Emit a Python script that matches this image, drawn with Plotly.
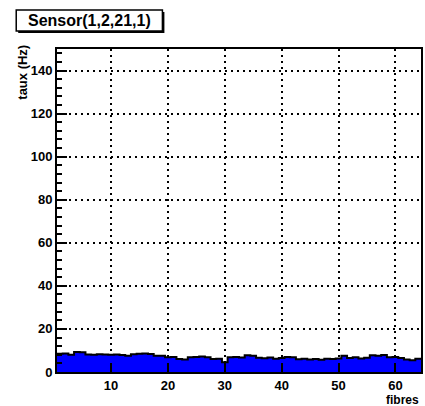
import plotly.graph_objects as go

title_text = "Sensor(1,2,21,1)"
x_title = "fibres"
y_title = "taux (Hz)"

fibres = list(range(1, 65))
taux = [8.5, 8.6, 8.0, 9.3, 9.2, 8.1, 8.0, 8.2, 8.1, 8.0,
        8.1, 7.9, 7.6, 8.3, 8.5, 8.6, 8.4, 7.6, 7.5, 6.8,
        7.0, 6.0, 5.8, 6.8, 7.0, 7.2, 6.9, 6.0, 6.1, 4.5,
        6.9, 7.0, 6.7, 7.8, 7.6, 6.6, 6.4, 6.7, 6.2, 6.5,
        7.0, 6.8, 5.9, 6.1, 5.8, 6.0, 5.7, 6.1, 6.0, 6.3,
        7.5, 6.5, 6.8, 6.3, 6.6, 7.8, 7.6, 7.9, 6.9, 7.0,
        6.5, 5.8, 5.5, 6.2]
x_ticks = [10, 20, 30, 40, 50, 60]
y_ticks = [0, 20, 40, 60, 80, 100, 120, 140]

W, H = 425, 406
L, R, T, B = 57, 2, 49, 34
pw, ph = W - L - R, H - T - B

def px(xp):
    return (xp - L) / pw

def py(yp):
    return (H - B - yp) / ph

edges = [f - 0.5 for f in fibres] + [fibres[-1] + 0.5]
yvals = taux + [taux[-1]]

fig = go.Figure()
fig.add_trace(go.Scatter(
    x=edges, y=yvals, mode="lines", line_shape="hv",
    fill="tozeroy", fillcolor="#0000ff",
    line=dict(color="black", width=2), hoverinfo="skip", showlegend=False))

font_b = dict(family="Liberation Sans, Arial, sans-serif", size=13, color="black", weight="bold")

fig.update_layout(
    width=W, height=H,
    margin=dict(l=L, r=R, t=T, b=B, pad=0),
    paper_bgcolor="white", plot_bgcolor="white",
    showlegend=False,
    xaxis=dict(
        range=[0.5, 64.5], tickvals=x_ticks, ticktext=[str(v) for v in x_ticks],
        showline=True, linecolor="black", linewidth=2, mirror=True,
        showgrid=True, gridcolor="black", gridwidth=2, griddash="2px,4px",
        ticks="inside", ticklen=9, tickwidth=2, tickcolor="black",
        zeroline=False, tickfont=font_b, fixedrange=True,
    ),
    yaxis=dict(
        range=[0, 150], tickvals=y_ticks, ticktext=[str(v) for v in y_ticks],
        showline=True, linecolor="black", linewidth=2, mirror=True,
        showgrid=True, gridcolor="black", gridwidth=2, griddash="2px,4px",
        ticks="inside", ticklen=10, tickwidth=2, tickcolor="black",
        minor=dict(dtick=4, tick0=0, ticks="inside", ticklen=5, tickwidth=2,
                   tickcolor="black", showgrid=False),
        zeroline=False, tickfont=font_b, fixedrange=True,
    ),
)

# title box with shadow
fig.add_shape(type="rect", xref="paper", yref="paper",
              x0=px(18), x1=px(165), y0=py(33), y1=py(12),
              fillcolor="black", line=dict(width=0))
fig.add_shape(type="rect", xref="paper", yref="paper",
              x0=px(16), x1=px(163), y0=py(31), y1=py(10),
              fillcolor="white", line=dict(color="black", width=1.5))
fig.add_annotation(xref="paper", yref="paper", x=px(89.5), y=py(20.5),
                   text=title_text, showarrow=False, xanchor="center", yanchor="middle",
                   font=dict(family="Liberation Sans, Arial, sans-serif", size=16,
                             color="black", weight="bold"))
fig.add_annotation(xref="paper", yref="paper", x=px(22), y=py(43),
                   text=y_title, showarrow=False, textangle=-90,
                   xanchor="center", yanchor="top",
                   font=dict(family="Liberation Sans, Arial, sans-serif", size=13,
                             color="black", weight="bold"))
fig.add_annotation(xref="paper", yref="paper", x=px(423), y=py(400),
                   text=x_title, showarrow=False, xanchor="right", yanchor="middle",
                   font=dict(family="Liberation Sans, Arial, sans-serif", size=12,
                             color="black", weight="bold"))

fig.write_html("out.html", config={"displayModeBar": False},
               post_script="document.body.style.margin='0';document.body.style.overflow='hidden';")
